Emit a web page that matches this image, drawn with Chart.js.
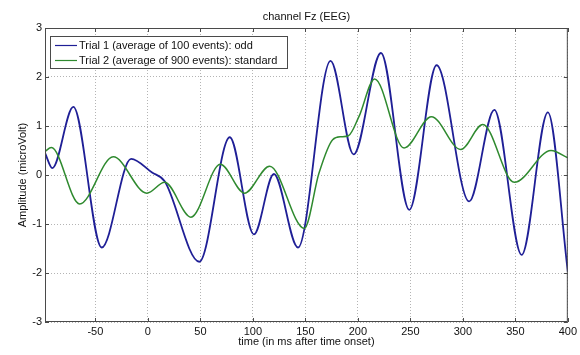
<!DOCTYPE html>
<html>
<head>
<meta charset="utf-8">
<script src="https://cdn.jsdelivr.net/npm/chart.js@4/dist/chart.umd.min.js"></script>
<style>
  html, body { margin: 0; padding: 0; background: #fff; }
  #wrap { width: 580px; height: 355px; }
</style>
</head>
<body>
<div id="wrap"><canvas id="eegChart" width="580" height="355"></canvas></div>
<script>
// ERP traces for channel Fz, time in ms, amplitude in microvolts
const trial1Time = [-98, -91, -71, -44, -16, 4, 16, 49, 78, 101, 120, 143, 174, 196, 222, 249, 275, 306, 330, 356, 381, 400];
const trial1Amp  = [0.45, 0.14, 1.39, -1.48, 0.33, 0.05, -0.13, -1.77, 0.77, -1.21, 0.02, -1.48, 2.33, 0.42, 2.49, -0.71, 2.24, -0.54, 1.33, -1.63, 1.28, -1.97];

const trial2Time = [-98, -92, -65, -33, -1, 16, 41, 69, 92, 116, 149, 163, 176, 184, 191, 201, 216, 244, 270, 298, 319, 349, 384, 400];
const trial2Amp  = [0.48, 0.56, -0.59, 0.37, -0.37, -0.15, -0.86, 0.22, -0.37, 0.18, -1.09, 0.04, 0.72, 0.78, 0.8, 1.19, 1.96, 0.55, 1.19, 0.52, 1.03, -0.15, 0.5, 0.35];

const xTicks = [-50, 0, 50, 100, 150, 200, 250, 300, 350, 400];
const yTicks = [-3, -2, -1, 0, 1, 2, 3];

const legendLabels = [
  'Trial 1 (average of 100 events): odd',
  'Trial 2 (average of 900 events): standard'
];
const titleText = 'channel Fz (EEG)';

const blue = '#1f1f96';
const green = '#2f8a2f';
const FONT = 'Liberation Sans, Arial, sans-serif';

const toPoints = (xs, ys) => xs.map((x, i) => ({ x, y: ys[i] }));

// box around the axes, inward tick marks, title and legend
const matlabFrame = {
  id: 'matlabFrame',
  afterDraw(chart) {
    const { ctx, chartArea: a, scales } = chart;
    ctx.save();
    ctx.strokeStyle = '#4a4a4a';
    ctx.lineWidth = 1;
    ctx.strokeRect(a.left + 0.5, a.top + 0.5, a.right - a.left - 1, a.bottom - a.top - 1);

    ctx.beginPath();
    xTicks.forEach(v => {
      const x = Math.round(scales.x.getPixelForValue(v)) + 0.5;
      ctx.moveTo(x, a.bottom); ctx.lineTo(x, a.bottom - 4);
      ctx.moveTo(x, a.top); ctx.lineTo(x, a.top + 4);
    });
    yTicks.forEach(v => {
      const y = Math.round(scales.y.getPixelForValue(v)) + 0.5;
      ctx.moveTo(a.left, y); ctx.lineTo(a.left + 4, y);
      ctx.moveTo(a.right, y); ctx.lineTo(a.right - 4, y);
    });
    ctx.stroke();

    ctx.fillStyle = '#111';
    ctx.font = '11px ' + FONT;
    ctx.textAlign = 'center';
    ctx.textBaseline = 'middle';
    ctx.fillText(titleText, (a.left + a.right) / 2, 17);

    // legend box
    const lx = 50, ly = 36, lw = 237, lh = 32;
    ctx.fillStyle = '#fff';
    ctx.fillRect(lx, ly, lw, lh);
    ctx.strokeStyle = '#4a4a4a';
    ctx.strokeRect(lx + 0.5, ly + 0.5, lw, lh);
    const rows = [[blue, 45], [green, 60]];
    rows.forEach(([col, y], i) => {
      ctx.strokeStyle = col;
      ctx.lineWidth = 1.2;
      ctx.beginPath();
      ctx.moveTo(55, y + 0.5);
      ctx.lineTo(77, y + 0.5);
      ctx.stroke();
      ctx.fillStyle = '#111';
      ctx.textAlign = 'left';
      ctx.fillText(legendLabels[i], 79, y + 1);
    });
    ctx.restore();
  }
};

new Chart(document.getElementById('eegChart'), {
  type: 'line',
  data: {
    datasets: [
      {
        label: legendLabels[0],
        data: toPoints(trial1Time, trial1Amp),
        borderColor: blue,
        borderWidth: 1.8,
        pointRadius: 0,
        cubicInterpolationMode: 'monotone',
        order: 1
      },
      {
        label: legendLabels[1],
        data: toPoints(trial2Time, trial2Amp),
        borderColor: green,
        borderWidth: 1.5,
        pointRadius: 0,
        cubicInterpolationMode: 'monotone',
        order: 0
      }
    ]
  },
  options: {
    responsive: false,
    animation: false,
    devicePixelRatio: 1,
    layout: { padding: { top: 28, right: 11, bottom: 0, left: 0 } },
    plugins: { legend: { display: false }, tooltip: { enabled: false } },
    scales: {
      x: {
        type: 'linear',
        min: -98,
        max: 400,
        afterBuildTicks: s => { s.ticks = xTicks.map(v => ({ value: v })); },
        afterFit: s => { s.height = 33; },
        grid: { color: '#b4b4b4', lineWidth: 1, drawTicks: false },
        border: { display: false, dash: [1, 2] },
        ticks: { color: '#111', font: { family: FONT, size: 11 }, padding: 3, maxRotation: 0 },
        title: {
          display: true,
          text: 'time (in ms after time onset)',
          color: '#111',
          font: { family: FONT, size: 11 },
          padding: { top: 0, bottom: 6 }
        }
      },
      y: {
        min: -3,
        max: 3,
        afterBuildTicks: s => { s.ticks = yTicks.map(v => ({ value: v })); },
        afterFit: s => { s.width = 45; },
        grid: { color: '#b4b4b4', lineWidth: 1, drawTicks: false },
        border: { display: false, dash: [1, 2] },
        ticks: { color: '#111', font: { family: FONT, size: 11 }, padding: 3 },
        title: {
          display: true,
          text: 'Amplitude (microVolt)',
          color: '#111',
          font: { family: FONT, size: 11 },
          padding: { top: 16, bottom: 0 }
        }
      }
    }
  },
  plugins: [matlabFrame]
});
</script>
</body>
</html>
